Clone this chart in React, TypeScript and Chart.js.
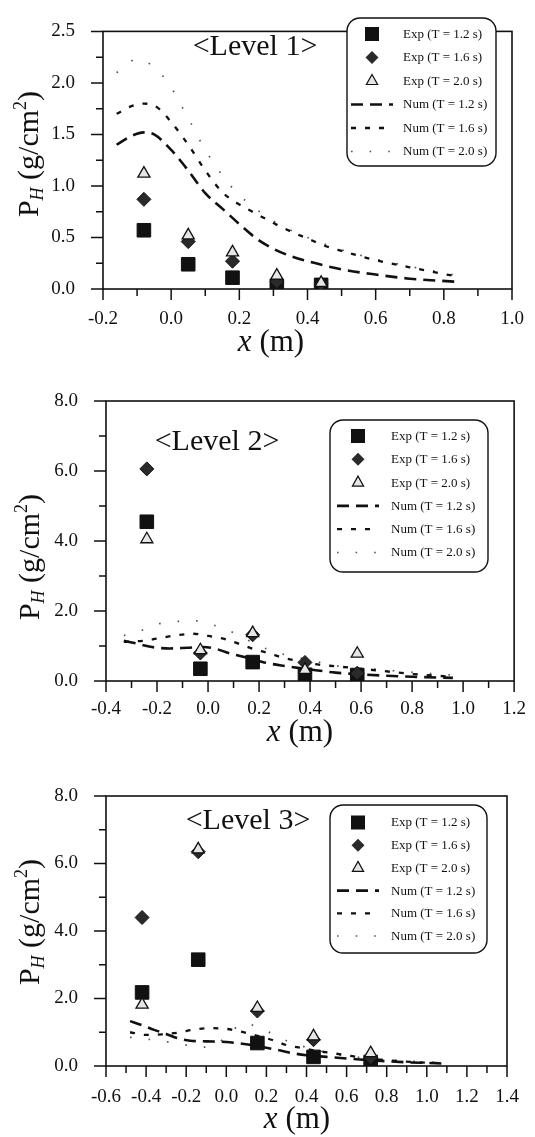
import { useEffect, useRef } from 'react';
import { Chart, registerables } from 'chart.js';
Chart.register(...registerables);

const SERIF = '"Liberation Serif", "Times New Roman", serif';
const INK = '#111';

const LEGEND_LABELS = ['Exp (T = 1.2 s)', 'Exp (T = 1.6 s)', 'Exp (T = 2.0 s)', 'Num (T = 1.2 s)', 'Num (T = 1.6 s)', 'Num (T = 2.0 s)'];

// ---------- Level 1 ----------
const L1_X_AXIS = { min: -0.2, max: 1.0, minor: 0.1, major: 0.2 };
const L1_Y_AXIS = { min: 0, max: 2.5, minor: 0.25, major: 0.5 };
const L1_EXP_X = [-0.08, 0.05, 0.18, 0.31, 0.44];
const L1_EXP12 = [0.57, 0.24, 0.11, 0.03, 0.04];
const L1_EXP16 = [0.87, 0.46, 0.27, 0.07, 0.05];
const L1_EXP20 = [1.12, 0.52, 0.355, 0.13, 0.06];
const L1_NUM12_X = [-0.16, -0.12, -0.08, -0.05, 0.0, 0.05, 0.1, 0.15, 0.2, 0.25, 0.3, 0.35, 0.4, 0.5, 0.6, 0.7, 0.84];
const L1_NUM12_Y = [1.40, 1.48, 1.52, 1.50, 1.35, 1.15, 0.93, 0.78, 0.63, 0.49, 0.39, 0.32, 0.27, 0.19, 0.14, 0.10, 0.07];
const L1_NUM16_X = [-0.16, -0.12, -0.08, -0.04, 0.0, 0.05, 0.1, 0.15, 0.2, 0.25, 0.3, 0.35, 0.4, 0.45, 0.5, 0.6, 0.7, 0.84];
const L1_NUM16_Y = [1.70, 1.77, 1.80, 1.76, 1.62, 1.40, 1.15, 0.94, 0.82, 0.73, 0.64, 0.56, 0.49, 0.42, 0.37, 0.28, 0.21, 0.12];
const L1_NUM20_X = [-0.16, -0.1, -0.02, 0.04, 0.1, 0.18, 0.3, 0.4, 0.5, 0.6, 0.7, 0.84];
const L1_NUM20_Y = [2.10, 2.23, 2.05, 1.72, 1.35, 0.98, 0.66, 0.50, 0.38, 0.29, 0.22, 0.13];

// ---------- Level 2 ----------
const L2_X_AXIS = { min: -0.4, max: 1.2, minor: 0.1, major: 0.2 };
const L2_Y_AXIS = { min: 0, max: 8, minor: 1, major: 2 };
const L2_EXP_X = [-0.24, -0.03, 0.175, 0.38, 0.585];
const L2_EXP12 = [4.55, 0.35, 0.54, 0.18, 0.17];
const L2_EXP16 = [6.06, 0.80, 1.32, 0.53, 0.22];
const L2_EXP20 = [4.05, 0.88, 1.37, 0.32, 0.78];
const L2_NUM12_X = [-0.33, -0.28, -0.22, -0.15, -0.08, -0.02, 0.03, 0.08, 0.15, 0.22, 0.3, 0.4, 0.5, 0.6, 0.7, 0.8, 0.96];
const L2_NUM12_Y = [1.15, 1.07, 0.97, 0.93, 0.95, 0.97, 0.92, 0.80, 0.67, 0.53, 0.43, 0.33, 0.24, 0.19, 0.15, 0.12, 0.09];
const L2_NUM16_X = [-0.33, -0.24, -0.18, -0.12, -0.06, 0.0, 0.07, 0.13, 0.18, 0.24, 0.3, 0.36, 0.42, 0.5, 0.56, 0.68, 0.8, 0.96];
const L2_NUM16_Y = [1.12, 1.16, 1.24, 1.31, 1.35, 1.29, 1.19, 1.04, 0.91, 0.79, 0.65, 0.57, 0.48, 0.42, 0.38, 0.29, 0.20, 0.12];
const L2_NUM20_X = [-0.33, -0.28, -0.2, -0.14, -0.05, 0.03, 0.1, 0.15, 0.25, 0.32, 0.4, 0.49, 0.62, 0.8, 0.96];
const L2_NUM20_Y = [1.30, 1.39, 1.62, 1.69, 1.72, 1.58, 1.38, 1.19, 0.86, 0.72, 0.60, 0.45, 0.36, 0.25, 0.17];

// ---------- Level 3 ----------
const L3_X_AXIS = { min: -0.6, max: 1.4, minor: 0.1, major: 0.2 };
const L3_Y_AXIS = { min: 0, max: 8, minor: 1, major: 2 };
const L3_EXP_X = [-0.42, -0.14, 0.155, 0.435, 0.72];
const L3_EXP12 = [2.18, 3.15, 0.68, 0.27, 0.12];
const L3_EXP16 = [4.40, 6.35, 1.63, 0.78, 0.25];
const L3_EXP20 = [1.82, 6.42, 1.72, 0.88, 0.38];
const L3_NUM12_X = [-0.48, -0.42, -0.36, -0.3, -0.24, -0.18, -0.1, 0.0, 0.08, 0.15, 0.2, 0.27, 0.33, 0.4, 0.5, 0.6, 0.7, 0.8, 0.9, 1.0, 1.1];
const L3_NUM12_Y = [1.33, 1.21, 1.07, 0.95, 0.82, 0.75, 0.73, 0.71, 0.66, 0.60, 0.54, 0.46, 0.38, 0.32, 0.27, 0.22, 0.18, 0.14, 0.11, 0.09, 0.07];
const L3_NUM16_X = [-0.48, -0.4, -0.32, -0.24, -0.16, -0.09, 0.0, 0.07, 0.15, 0.23, 0.3, 0.36, 0.45, 0.53, 0.62, 0.72, 0.85, 1.0, 1.1];
const L3_NUM16_Y = [1.00, 0.92, 0.94, 0.99, 1.08, 1.12, 1.10, 1.02, 0.90, 0.77, 0.62, 0.55, 0.45, 0.38, 0.30, 0.22, 0.15, 0.10, 0.08];
const L3_NUM20_X = [-0.48, -0.4, -0.3, -0.2, -0.1, 0.0, 0.08, 0.15, 0.22, 0.3, 0.4, 0.5, 0.6, 0.8, 1.1];
const L3_NUM20_Y = [0.85, 0.80, 0.72, 0.62, 0.56, 0.85, 1.25, 1.18, 0.98, 0.75, 0.55, 0.40, 0.30, 0.18, 0.10];

type Axis = { min: number; max: number; minor: number; major: number };
type Panel = {
  top: number; height: number;
  area: { l: number; r: number; t: number; b: number };
  xAxis: Axis; yAxis: Axis;
  xLabelPad: number;
  level: string; levelPos: [number, number];
  legend: { l: number; t: number; r: number; b: number; row0: number; step: number; symX: number; textX: number };
  xTitle: [number, number]; yTitle: [number, number];
  expX: number[]; exp: number[][];
  num: [number[], number[]][];
};

const PANELS: Panel[] = [
  {
    top: 0, height: 360,
    area: { l: 103, r: 512, t: 14, b: 289 },
    xAxis: L1_X_AXIS, yAxis: L1_Y_AXIS, xLabelPad: 11,
    level: '<Level 1>', levelPos: [255, 47],
    legend: { l: 347, t: 18, r: 496, b: 166, row0: 34, step: 23.5, symX: 372, textX: 403 },
    xTitle: [271, 341], yTitle: [28, 154],
    expX: L1_EXP_X, exp: [L1_EXP12, L1_EXP16, L1_EXP20],
    num: [[L1_NUM12_X, L1_NUM12_Y], [L1_NUM16_X, L1_NUM16_Y], [L1_NUM20_X, L1_NUM20_Y]],
  },
  {
    top: 360, height: 390,
    area: { l: 106, r: 520, t: 401, b: 681 },
    xAxis: L2_X_AXIS, yAxis: L2_Y_AXIS, xLabelPad: 9,
    level: '<Level 2>', levelPos: [217, 442],
    legend: { l: 330, t: 420, r: 488, b: 572, row0: 436, step: 23.3, symX: 358, textX: 391 },
    xTitle: [300, 731], yTitle: [29, 557],
    expX: L2_EXP_X, exp: [L2_EXP12, L2_EXP16, L2_EXP20],
    num: [[L2_NUM12_X, L2_NUM12_Y], [L2_NUM16_X, L2_NUM16_Y], [L2_NUM20_X, L2_NUM20_Y]],
  },
  {
    top: 750, height: 387,
    area: { l: 106, r: 507, t: 796, b: 1066 },
    xAxis: L3_X_AXIS, yAxis: L3_Y_AXIS, xLabelPad: 12,
    level: '<Level 3>', levelPos: [248, 821],
    legend: { l: 330, t: 805, r: 487, b: 953, row0: 822.5, step: 22.7, symX: 358, textX: 391 },
    xTitle: [297, 1118], yTitle: [29, 922],
    expX: L3_EXP_X, exp: [L3_EXP12, L3_EXP16, L3_EXP20],
    num: [[L3_NUM12_X, L3_NUM12_Y], [L3_NUM16_X, L3_NUM16_Y], [L3_NUM20_X, L3_NUM20_Y]],
  },
];

const LINE_STYLES = [
  { dash: [12, 7], width: 2.6, color: '#111' },
  { dash: [5, 9], width: 2.3, color: '#111' },
  { dash: [1.6, 17], width: 1.7, color: '#555' },
];

const isMajor = (v: number, a: Axis) => Math.abs(Math.round(v / a.major) * a.major - v) < 1e-6;
const fmt = (v: number) => (Math.abs(v) < 1e-9 ? '0.0' : v.toFixed(1));

function roundRect(ctx: CanvasRenderingContext2D, x: number, y: number, w: number, h: number, r: number) {
  ctx.beginPath();
  ctx.moveTo(x + r, y);
  ctx.arcTo(x + w, y, x + w, y + h, r);
  ctx.arcTo(x + w, y + h, x, y + h, r);
  ctx.arcTo(x, y + h, x, y, r);
  ctx.arcTo(x, y, x + w, y, r);
  ctx.closePath();
}

function drawRich(ctx: CanvasRenderingContext2D, parts: { t: string; size: number; italic?: boolean; dy?: number }[], cx: number, baseY: number) {
  let total = 0;
  for (const p of parts) {
    ctx.font = `${p.italic ? 'italic ' : ''}${p.size}px ${SERIF}`;
    total += ctx.measureText(p.t).width;
  }
  let x = cx - total / 2;
  ctx.textAlign = 'left';
  ctx.textBaseline = 'alphabetic';
  for (const p of parts) {
    ctx.font = `${p.italic ? 'italic ' : ''}${p.size}px ${SERIF}`;
    ctx.fillText(p.t, x, baseY + (p.dy || 0));
    x += ctx.measureText(p.t).width;
  }
}

function makeDecor(p: Panel) {
  const off = p.top;
  return {
    id: 'decor',
    beforeDatasetsDraw(chart: any) {
      const ctx: CanvasRenderingContext2D = chart.ctx;
      const { left, right, top, bottom } = chart.chartArea;
      ctx.save();
      ctx.strokeStyle = INK;
      ctx.lineWidth = 1.6;
      ctx.strokeRect(left, top, right - left, bottom - top);
      const xs = chart.scales.x;
      const ys = chart.scales.y;
      ctx.lineWidth = 1.5;
      ctx.beginPath();
      for (const t of xs.ticks) {
        const px = xs.getPixelForValue(t.value);
        const len = isMajor(t.value, p.xAxis) ? 11 : 7;
        ctx.moveTo(px, bottom);
        ctx.lineTo(px, bottom + len);
      }
      for (const t of ys.ticks) {
        const py = ys.getPixelForValue(t.value);
        const len = isMajor(t.value, p.yAxis) ? 12 : 7;
        ctx.moveTo(left, py);
        ctx.lineTo(left - len, py);
      }
      ctx.stroke();
      ctx.restore();
    },
    afterDraw(chart: any) {
      const ctx: CanvasRenderingContext2D = chart.ctx;
      ctx.save();
      ctx.fillStyle = INK;
      // level text
      ctx.font = `30px ${SERIF}`;
      ctx.textAlign = 'center';
      ctx.textBaseline = 'middle';
      ctx.fillText(p.level, p.levelPos[0], p.levelPos[1] - off);
      // x title
      drawRich(ctx, [{ t: 'x', size: 31, italic: true }, { t: ' (m)', size: 31 }], p.xTitle[0], p.xTitle[1] - off + 10);
      // y title
      ctx.save();
      ctx.translate(p.yTitle[0], p.yTitle[1] - off);
      ctx.rotate(-Math.PI / 2);
      drawRich(ctx, [
        { t: 'P', size: 30 },
        { t: 'H', size: 18, italic: true, dy: 5 },
        { t: ' (g/cm', size: 30 },
        { t: '2', size: 18, dy: -12 },
        { t: ')', size: 30 },
      ], 0, 10);
      ctx.restore();
      // legend
      const lg = p.legend;
      ctx.lineWidth = 1.4;
      ctx.strokeStyle = INK;
      roundRect(ctx, lg.l, lg.t - off, lg.r - lg.l, lg.b - lg.t, 13);
      ctx.fillStyle = '#fff';
      ctx.fill();
      ctx.stroke();
      for (let i = 0; i < 6; i++) {
        const y = lg.row0 + i * lg.step - off;
        const sx = lg.symX;
        ctx.save();
        if (i === 0) {
          ctx.fillStyle = INK;
          ctx.fillRect(sx - 7, y - 7, 14, 14);
        } else if (i === 1) {
          ctx.fillStyle = '#2a2a2a';
          ctx.beginPath();
          ctx.moveTo(sx, y - 6.5); ctx.lineTo(sx + 6.5, y); ctx.lineTo(sx, y + 6.5); ctx.lineTo(sx - 6.5, y);
          ctx.closePath(); ctx.fill();
        } else if (i === 2) {
          ctx.fillStyle = '#e6e6e6';
          ctx.strokeStyle = INK;
          ctx.lineWidth = 1.2;
          ctx.beginPath();
          ctx.moveTo(sx, y - 6.5); ctx.lineTo(sx + 5.6, y + 3.5); ctx.lineTo(sx - 5.6, y + 3.5);
          ctx.closePath(); ctx.fill(); ctx.stroke();
        } else {
          const st = LINE_STYLES[i - 3];
          ctx.strokeStyle = st.color;
          ctx.lineWidth = st.width;
          ctx.setLineDash(st.dash);
          ctx.beginPath();
          ctx.moveTo(sx - 21, y); ctx.lineTo(sx + 21, y);
          ctx.stroke();
        }
        ctx.restore();
        ctx.fillStyle = INK;
        ctx.font = `13px ${SERIF}`;
        ctx.textAlign = 'left';
        ctx.textBaseline = 'middle';
        ctx.fillText(LEGEND_LABELS[i], lg.textX, y + 0.5);
      }
      ctx.restore();
    },
  };
}

function PanelChart({ p }: { p: Panel }) {
  const ref = useRef<HTMLCanvasElement>(null);
  useEffect(() => {
    const canvas = ref.current;
    if (!canvas) return;
    const pts = (xs: number[], ys: number[]) => xs.map((x, i) => ({ x, y: ys[i] }));
    const localT = p.area.t - p.top;
    const localB = p.area.b - p.top;
    const datasets: any[] = [
      {
        label: LEGEND_LABELS[0], data: pts(p.expX, p.exp[0]), pointStyle: 'rect', pointRadius: 9.6,
        backgroundColor: INK, borderColor: INK, borderWidth: 1, showLine: false, order: 3,
      },
      {
        label: LEGEND_LABELS[1], data: pts(p.expX, p.exp[1]), pointStyle: 'rectRot', pointRadius: 7,
        backgroundColor: '#2a2a2a', borderColor: INK, borderWidth: 1, showLine: false, order: 2,
      },
      {
        label: LEGEND_LABELS[2], data: pts(p.expX, p.exp[2]), pointStyle: 'triangle', pointRadius: 7,
        backgroundColor: '#e6e6e6', borderColor: INK, borderWidth: 1.3, showLine: false, order: 1,
      },
      ...p.num.map((s, i) => ({
        label: LEGEND_LABELS[3 + i], data: pts(s[0], s[1]), showLine: true, pointRadius: 0,
        borderColor: LINE_STYLES[i].color, borderWidth: LINE_STYLES[i].width, borderDash: LINE_STYLES[i].dash,
        backgroundColor: 'transparent', fill: false, cubicInterpolationMode: 'monotone', order: 4 + i,
      })),
    ];
    const axisOpts = (a: Axis, isX: boolean) => ({
      type: 'linear',
      min: a.min,
      max: a.max,
      grid: { display: false },
      border: { display: false },
      ticks: {
        stepSize: a.minor,
        autoSkip: false,
        maxRotation: 0,
        includeBounds: true,
        color: INK,
        font: { family: SERIF, size: 19 },
        padding: isX ? p.xLabelPad : 20,
        callback: (v: any) => (isMajor(Number(v), a) ? fmt(Number(v)) : ''),
      },
      afterFit: (scale: any) => {
        if (isX) scale.height = p.height - localB;
        else scale.width = p.area.l;
      },
    });
    const chart = new Chart(canvas, {
      type: 'scatter',
      data: { datasets },
      options: {
        responsive: false,
        animation: false,
        devicePixelRatio: 1,
        layout: { padding: { left: 0, top: localT, right: 535 - p.area.r, bottom: 0 } },
        plugins: { legend: { display: false }, tooltip: { enabled: false } },
        scales: { x: axisOpts(p.xAxis, true) as any, y: axisOpts(p.yAxis, false) as any },
      },
      plugins: [makeDecor(p)],
    });
    return () => chart.destroy();
  }, [p]);
  return (
    <canvas
      ref={ref}
      width={535}
      height={p.height}
      style={{ position: 'absolute', left: 0, top: p.top, width: 535, height: p.height }}
    />
  );
}

export default function App() {
  return (
    <div style={{ position: 'absolute', left: 0, top: 0, width: 535, height: 1137, background: '#fff', overflow: 'hidden' }}>
      {PANELS.map((p, i) => (
        <PanelChart key={i} p={p} />
      ))}
    </div>
  );
}
